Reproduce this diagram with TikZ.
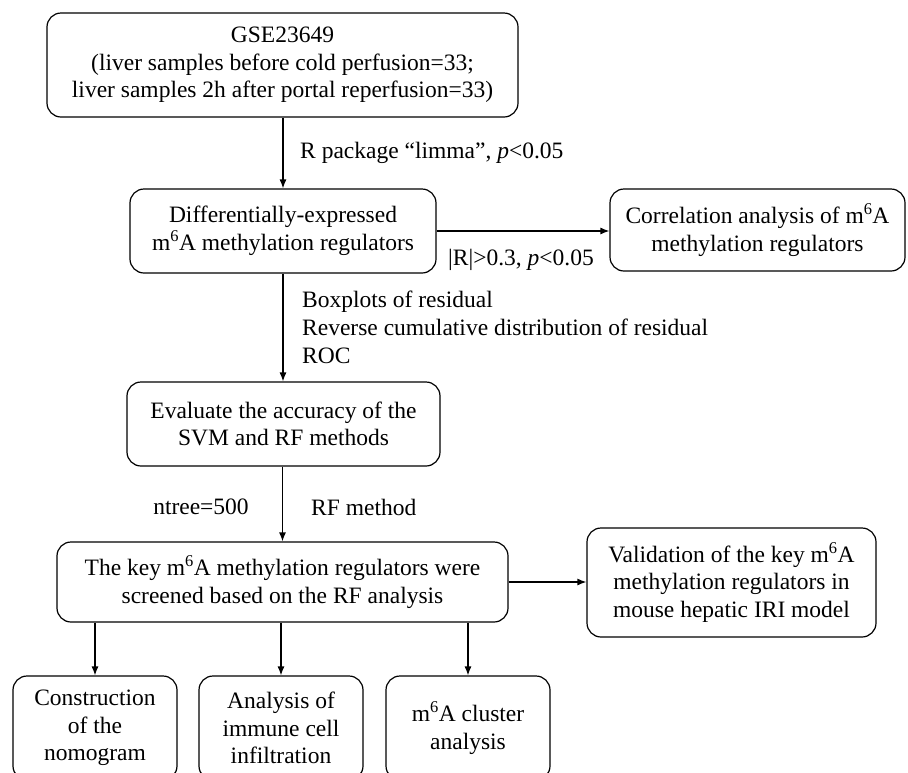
\documentclass[tikz,border=0pt]{standalone}
\usepackage{fontspec}
\setmainfont{Liberation Serif}
\usetikzlibrary{arrows.meta}
\newcommand{\mA}{m\textsuperscript{6}A}
\tikzset{
  box/.style={draw, line width=1.2pt, rounded corners=14pt, align=center,
    inner sep=0pt, font=\fontsize{23.5}{27.5}\selectfont},
  lbl/.style={inner sep=0pt, font=\fontsize{23.5}{28}\selectfont},
  flow/.style={line width=1.2pt, -{Latex[length=9pt,width=7pt]}}
}
\begin{document}
\begin{tikzpicture}[x=1pt, y=-1pt]
  \useasboundingbox (0,0) rectangle (908,772);
  \clip (0,0) rectangle (908,772);

  % boxes
  \node[box, minimum width=471pt, minimum height=104pt] (b1) at (282.5,65)
    {GSE23649\\(liver samples before cold perfusion=33;\\liver samples 2h after portal reperfusion=33)};
  \node[box, minimum width=306pt, minimum height=84pt] (b2) at (283,231)
    {Differentially-expressed\\\mA{} methylation regulators};
  \node[box, minimum width=295pt, minimum height=82pt] (b3) at (757.5,230)
    {Correlation analysis of \mA\\methylation regulators};
  \node[box, minimum width=313pt, minimum height=84pt] (b4) at (283.5,424)
    {Evaluate the accuracy of the\\SVM and RF methods};
  \node[box, minimum width=451pt, minimum height=80pt] (b5) at (282.5,582)
    {The key \mA{} methylation regulators were\\screened based on the RF analysis};
  \node[box, minimum width=289pt, minimum height=109pt] (b6) at (731.5,582.5)
    {Validation of the key \mA\\methylation regulators in\\mouse hepatic IRI model};
  \node[box, minimum width=164pt, minimum height=104pt] (b7) at (95,728)
    {Construction\\of the\\nomogram};
  \node[box, minimum width=164pt, minimum height=104pt] (b8) at (281,728)
    {Analysis of\\immune cell\\infiltration};
  \node[box, minimum width=164pt, minimum height=104pt] (b9) at (468,728)
    {\mA{} cluster\\analysis};

  % connectors
  \draw[flow] (b1.south -| b2.north) -- (b2.north);
  \draw[flow] (b2.east) -- (b3.west |- b2.east);
  \draw[flow] (b2.south) -- (b4.north -| b2.south);
  \draw[flow] (b4.south -| b5.north) -- (b5.north);
  \draw[flow] (b5.east) -- (b6.west |- b5.east);
  \draw[flow] (b5.south -| b7.north) -- (b7.north);
  \draw[flow] (b5.south -| b8.north) -- (b8.north);
  \draw[flow] (b5.south -| b9.north) -- (b9.north);

  % labels
  \node[lbl, anchor=west] (l1) at (300,153) {R package “limma”, \textit{p}<0.05};
  \node[lbl, anchor=west] (l2) at (448,260) {|R|>0.3, \textit{p}<0.05};
  \node[lbl, anchor=west, align=left] (l3) at (302,327)
    {Boxplots of residual\\Reverse cumulative distribution of residual\\ROC};
  \node[lbl] (l4) at (201,507) {ntree=500};
  \node[lbl, anchor=west] (l5) at (311,507) {RF method};
\end{tikzpicture}
\end{document}
